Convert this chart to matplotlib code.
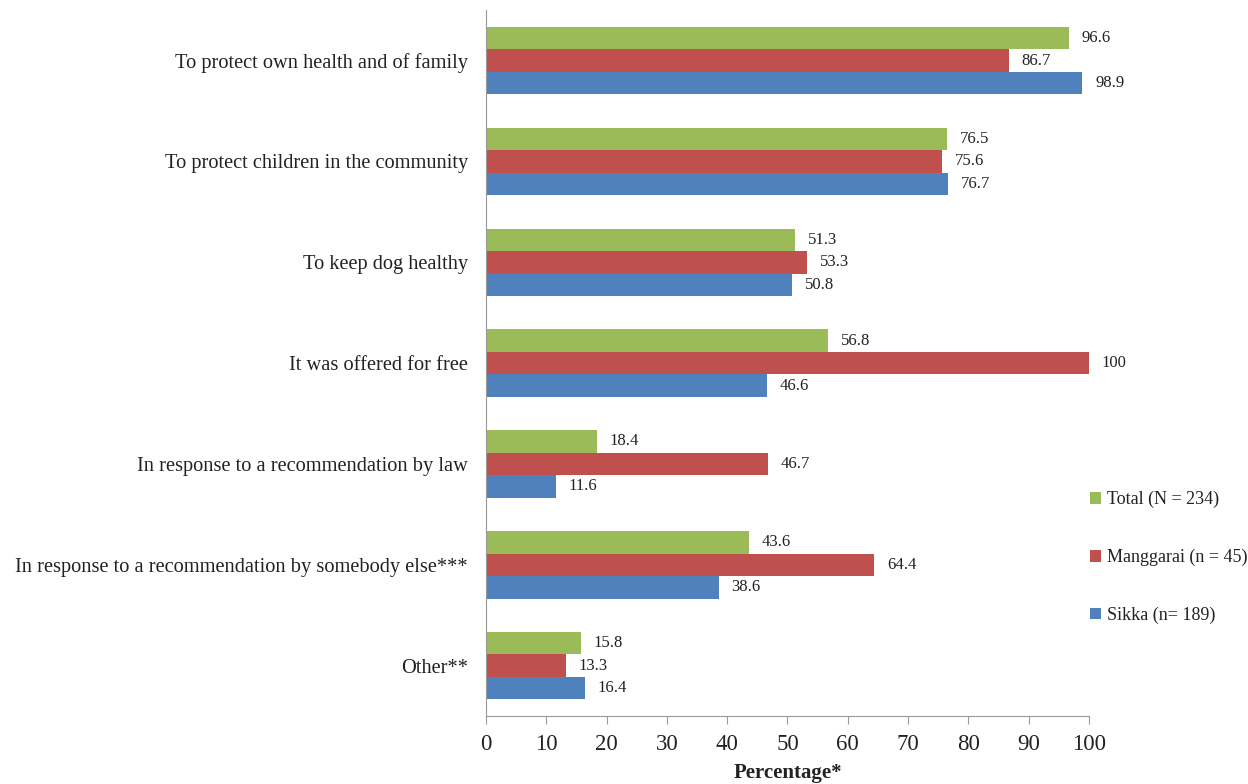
import numpy as np
import matplotlib.pyplot as plt

categories = [
    "To protect own health and of family",
    "To protect children in the community",
    "To keep dog healthy",
    "It was offered for free",
    "In response to a recommendation by law",
    "In response to a recommendation by somebody else***",
    "Other**",
]
total = [96.6, 76.5, 51.3, 56.8, 18.4, 43.6, 15.8]
manggarai = [86.7, 75.6, 53.3, 100, 46.7, 64.4, 13.3]
sikka = [98.9, 76.7, 50.8, 46.6, 11.6, 38.6, 16.4]

series = [
    ("Total (N = 234)", total, "#9BBB59"),
    ("Manggarai (n = 45)", manggarai, "#C0504D"),
    ("Sikka (n= 189)", sikka, "#4F81BD"),
]

plt.rcParams['font.family'] = ['Liberation Serif', 'DejaVu Serif']
txt = '#222222'

fig = plt.figure(figsize=(12.48, 7.84), dpi=100)
ax = fig.add_axes([0.3894, 0.0867, 0.4832, 0.9003])

y = np.arange(len(categories))
h = 0.223
handles = []
for i, (name, vals, col) in enumerate(series):
    pos = y + (i - 1) * h
    b = ax.barh(pos, vals, height=h, color=col, label=name)
    handles.append(b)
    for p, v in zip(pos, vals):
        ax.text(v + 2.1, p, f"{v:g}", va='center', ha='left', fontsize=12, color=txt)

ax.set_ylim(len(categories) - 0.5, -0.5)
ax.set_xlim(0, 100)
ax.set_xticks(range(0, 101, 10))
ax.set_yticks(y)
ax.set_yticklabels(categories, fontsize=14.7, color=txt)
ax.tick_params(axis='y', length=0, pad=13)
ax.tick_params(axis='x', labelsize=16.5, labelcolor=txt, length=6,
               color='#999999', direction='out', pad=7)
ax.set_xlabel("Percentage*", fontsize=15, fontweight='bold', color=txt, labelpad=6)
for s in ['top', 'right']:
    ax.spines[s].set_visible(False)
for s in ['left', 'bottom']:
    ax.spines[s].set_color('#999999')

fig.legend(handles=handles, loc='upper left', bbox_to_anchor=(0.868, 0.383),
           frameon=False, fontsize=13, handlelength=0.6, handleheight=0.6,
           handletextpad=0.3, labelspacing=2.25, borderaxespad=0,
           labelcolor=txt)

fig.savefig("out.png", dpi=100)
